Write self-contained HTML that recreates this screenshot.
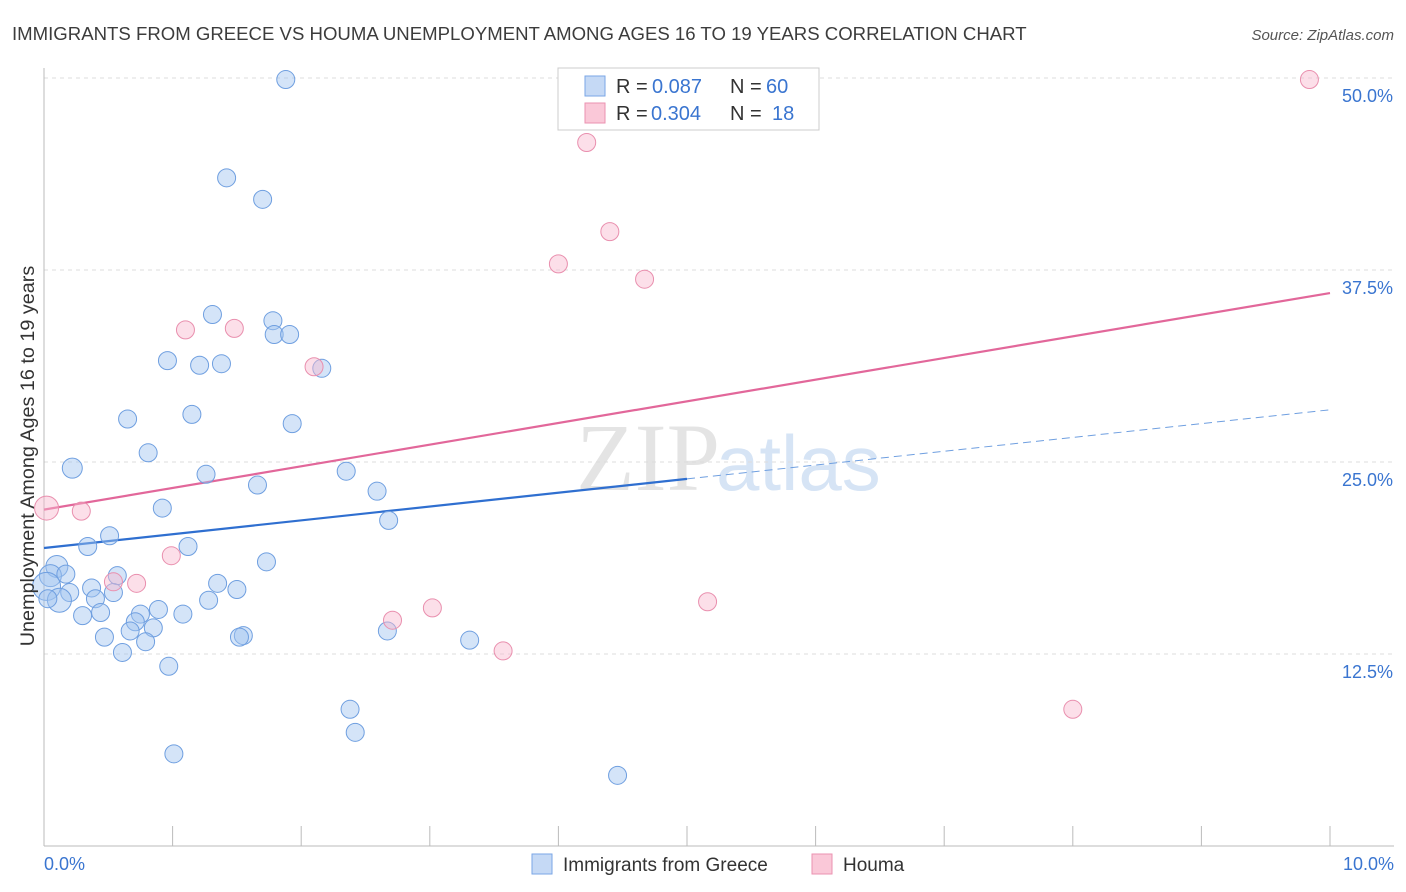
<!DOCTYPE html>
<html><head><meta charset="utf-8"><style>
body{margin:0;background:#fff;font-family:"Liberation Sans",sans-serif;}
#wrap{position:relative;width:1406px;height:892px;overflow:hidden;}
</style></head><body>
<div id="wrap">
<svg id="chart" width="1406" height="892" xmlns="http://www.w3.org/2000/svg">
<text x="12" y="40" font-size="18.6" fill="#3c3c3c">IMMIGRANTS FROM GREECE VS HOUMA UNEMPLOYMENT AMONG AGES 16 TO 19 YEARS CORRELATION CHART</text>
<text x="1394" y="40" font-size="15" fill="#555" text-anchor="end" font-style="italic">Source: ZipAtlas.com</text>
<text x="720" y="490" font-size="96" fill="#e4e4e4" text-anchor="end" font-family="Liberation Serif">ZIP</text>
<text x="716" y="490" font-size="78" fill="#d6e4f5">atlas</text>
<g id="grid"></g><g id="axes"></g><g id="lines"></g><g id="pts"></g>
<text transform="translate(34,456) rotate(-90)" font-size="19.8" fill="#333" text-anchor="middle">Unemployment Among Ages 16 to 19 years</text>
<text x="44" y="870" font-size="18" fill="#3a75d0">0.0%</text>
<text x="1394" y="870" font-size="18" fill="#3a75d0" text-anchor="end">10.0%</text>
<g>
<rect x="558" y="68" width="261" height="62" fill="#fff" stroke="#ccc"/>
<rect x="585" y="76" width="20" height="20" fill="#c5d9f5" stroke="#7aa6e6"/>
<rect x="585" y="103" width="20" height="20" fill="#fac8d8" stroke="#eb92b0"/>
<text x="616" y="93" font-size="20" fill="#333">R =</text>
<text x="652" y="93" font-size="20" fill="#3a75d0">0.087</text>
<text x="730" y="93" font-size="20" fill="#333">N =</text>
<text x="766" y="93" font-size="20" fill="#3a75d0">60</text>
<text x="616" y="120" font-size="20" fill="#333">R =</text>
<text x="651" y="120" font-size="20" fill="#3a75d0">0.304</text>
<text x="730" y="120" font-size="20" fill="#333">N =</text>
<text x="772" y="120" font-size="20" fill="#3a75d0">18</text>
</g>
<g>
<rect x="532" y="854" width="20" height="20" fill="#c5d9f5" stroke="#7aa6e6"/>
<text x="563" y="871" font-size="19" fill="#333">Immigrants from Greece</text>
<rect x="812" y="854" width="20" height="20" fill="#fac8d8" stroke="#eb92b0"/>
<text x="843" y="871" font-size="19" fill="#333">Houma</text>
</g>
</svg>
</div>
<script>
const yTicks=[12.5,25,37.5,50];
const yTickLabels=["12.5%","25.0%","37.5%","50.0%"];
const xTicks=[0,1,2,3,4,5,6,7,8,9,10];
const greeceX=[1.88,1.42,1.7,1.31,1.78,1.79,1.91,0.96,1.21,1.38,2.16,1.15,0.65,1.93,0.81,0.22,1.26,2.35,1.66,2.59,0.92,2.68,0.51,0.34,1.12,1.73,0.1,0.05,0.17,0.57,0.02,0.37,1.35,1.5,0.2,0.54,0.12,0.03,0.4,1.28,0.89,0.75,1.08,0.44,0.3,0.71,0.85,0.67,2.67,0.47,0.79,1.55,1.52,3.31,0.61,0.97,2.38,2.42,1.01,4.46];
const greeceY=[49.9,43.5,42.1,34.6,34.2,33.3,33.3,31.6,31.3,31.4,31.1,28.1,27.8,27.5,25.6,24.6,24.2,24.4,23.5,23.1,22.0,21.2,20.2,19.5,19.5,18.5,18.2,17.6,17.7,17.6,16.9,16.8,17.1,16.7,16.5,16.5,16.0,16.1,16.1,16.0,15.4,15.1,15.1,15.2,15.0,14.6,14.2,14.0,14.0,13.6,13.3,13.7,13.6,13.4,12.6,11.7,8.9,7.4,6.0,4.6];
const greeceR=[9,9,9,9,9,9,9,9,9,9,9,9,9,9,9,10,9,9,9,9,9,9,9,9,9,9,11,11,9,9,14,9,9,9,9,9,12,9,9,9,9,9,9,9,9,9,9,9,9,9,9,9,9,9,9,9,9,9,9,9];
const houmaX=[9.84,4.22,4.4,4.0,4.67,1.1,1.48,2.1,0.02,0.29,0.99,0.72,0.54,3.02,5.16,2.71,3.57,8.0];
const houmaY=[49.9,45.8,40.0,37.9,36.9,33.6,33.7,31.2,22.0,21.8,18.9,17.1,17.2,15.5,15.9,14.7,12.7,8.9];
const houmaR=[9,9,9,9,9,9,9,9,12,9,9,9,9,9,9,9,9,9];
const blueLine=[0.087,19.4,23.9];
const blueDashEnd=28.4;
const pinkLine=[21.9,36.0];
const X=v=>44+v*128.6, Y=v=>78+(50-v)*15.36;
const NS="http://www.w3.org/2000/svg";
function mk(t,a,p){const e=document.createElementNS(NS,t);for(const k in a)e.setAttribute(k,a[k]);p.appendChild(e);return e;}
const grid=document.getElementById('grid'),axes=document.getElementById('axes'),lines=document.getElementById('lines'),pts=document.getElementById('pts');
yTicks.forEach((t,i)=>{
 const g=mk('line',{x1:44,x2:1394,y1:Y(t),y2:Y(t),stroke:'#ddd','stroke-dasharray':'4,4'},grid);
 
 
 const l=mk('text',{x:1393,y:Y(t)+24,'font-size':18,fill:'#3a75d0','text-anchor':'end'},grid);
 l.textContent=yTickLabels[i];
 
 
});
const ax=mk('line',{x1:44,x2:44,y1:68,y2:846,stroke:'#bbb'},axes);


const bx=mk('line',{x1:44,x2:1394,y1:846,y2:846,stroke:'#bbb'},axes);


xTicks.forEach(t=>{const e=mk('line',{x1:X(t),x2:X(t),y1:826,y2:846,stroke:'#bbb'},axes);
 
 });
greeceX.forEach((x,i)=>{const c=mk('circle',{cx:X(x),cy:Y(greeceY[i]),r:greeceR[i],fill:'rgba(160,196,240,0.45)',stroke:'#6f9fe0','stroke-width':1},pts);
 
 });
houmaX.forEach((x,i)=>{const c=mk('circle',{cx:X(x),cy:Y(houmaY[i]),r:houmaR[i],fill:'rgba(248,184,206,0.45)',stroke:'#e98fae','stroke-width':1},pts);
 
 });
const b1=mk('line',{x1:X(0),y1:Y(blueLine[1]),x2:X(5),y2:Y(blueLine[2]),stroke:'#2f6fd0','stroke-width':2.2},lines);


const b2=mk('line',{x1:X(5),y1:Y(blueLine[2]),x2:X(10),y2:Y(blueDashEnd),stroke:'#6f9fe0','stroke-width':1,'stroke-dasharray':'8,5'},lines);


const p1=mk('line',{x1:X(0),y1:Y(pinkLine[0]),x2:X(10),y2:Y(pinkLine[1]),stroke:'#e2679a','stroke-width':2.2},lines);


</script>
</body></html>
